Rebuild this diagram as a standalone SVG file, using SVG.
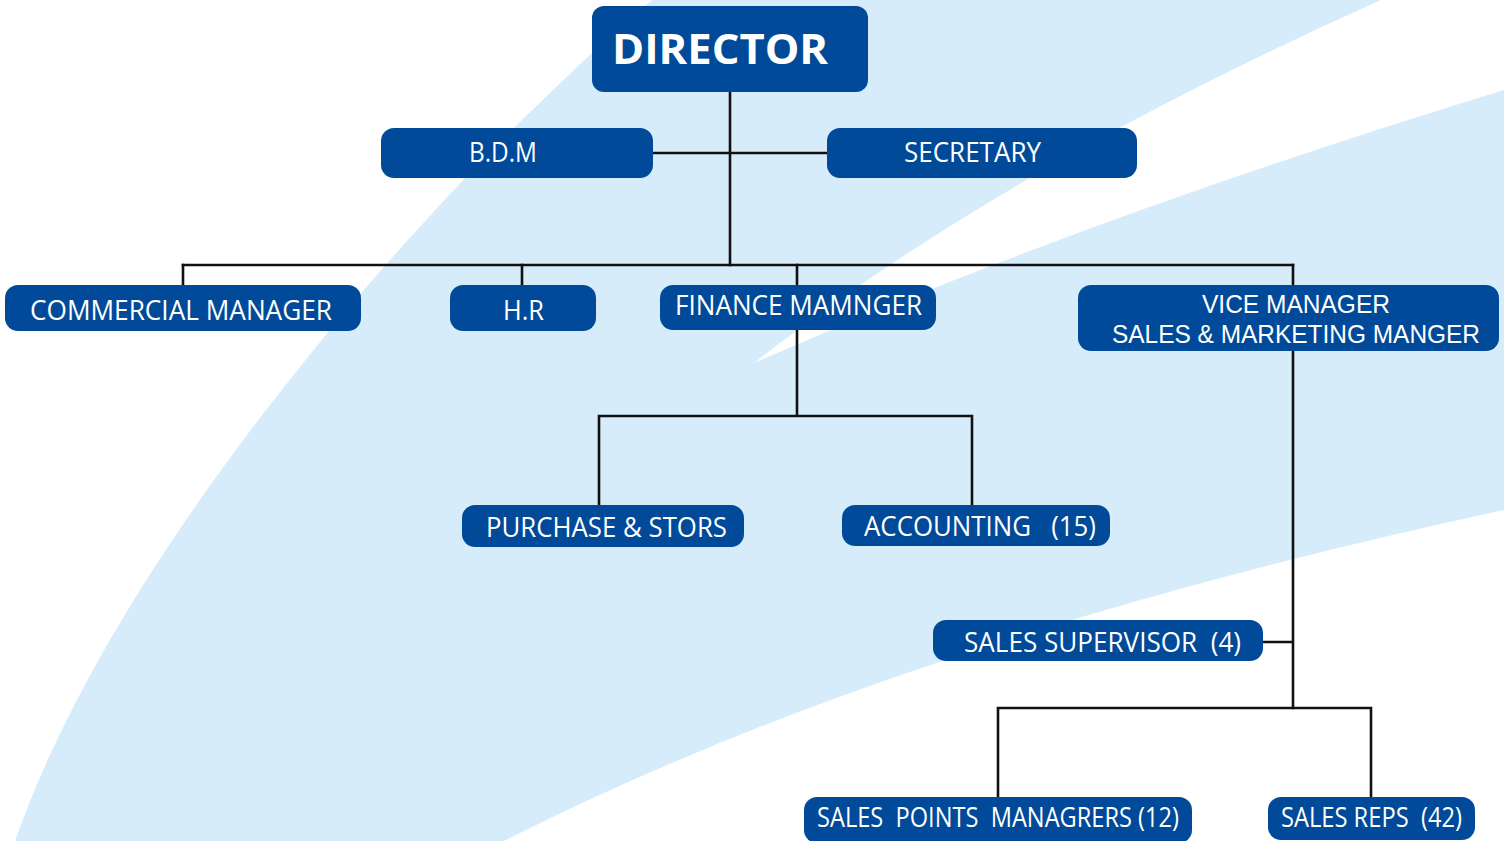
<svg xmlns="http://www.w3.org/2000/svg" width="1504" height="841" viewBox="0 0 1504 841">
  <style>
    .box { fill: #004a99; }
    .lbl { font-family: "Open Sans", "Noto Sans", "Liberation Sans", sans-serif; font-size: 28px; fill: #ffffff; }
    .two { font-family: "Liberation Sans", "Open Sans", sans-serif; font-size: 26px; fill: #ffffff; }
    .big { font-family: "Open Sans", "Noto Sans", "Liberation Sans", sans-serif; font-size: 42px; font-weight: bold; fill: #ffffff; }
    .wire { fill: none; stroke: #111111; stroke-width: 2.6; stroke-linecap: square; }
  </style>

  <!-- background swooshes -->
  <g id="background">
    <rect x="0" y="0" width="1504" height="841" fill="#ffffff"/>
    <path d="M652,0 C440,180 120,540 15,841 L1504,841 L1504,0 Z" fill="#d6ecfa"/>
    <path d="M754,363 Q1000,170 1381,0 L1504,0 L1504,90 Q1080,220 754,363 Z" fill="#ffffff"/>
    <path d="M504,841 Q900,640 1504,510 L1504,841 Z" fill="#ffffff"/>
  </g>

  <!-- connectors -->
  <g id="connectors" class="wire">
    <path d="M730,92 V265"/>
    <path d="M653,153 H827"/>
    <path d="M183,265 H1293"/>
    <path d="M183,265 V285 M522,265 V285 M797,265 V285 M1293,265 V285"/>
    <path d="M797,330 V416 M599,416 H972 M599,416 V505 M972,416 V505"/>
    <path d="M1293,351 V708 M1263,642 H1293"/>
    <path d="M998,708 H1371 M998,708 V797 M1371,708 V797"/>
  </g>

  <g id="director">
    <rect class="box" x="592" y="6" width="276" height="86" rx="12"/>
    <text class="big" x="612" y="64" textLength="216" lengthAdjust="spacingAndGlyphs">DIRECTOR</text>
  </g>

  <g id="bdm">
    <rect class="box" x="381" y="128" width="272" height="50" rx="13"/>
    <text class="lbl" x="469" y="162" textLength="68" lengthAdjust="spacingAndGlyphs">B.D.M</text>
  </g>

  <g id="secretary">
    <rect class="box" x="827" y="128" width="310" height="50" rx="13"/>
    <text class="lbl" x="904" y="162" textLength="137" lengthAdjust="spacingAndGlyphs">SECRETARY</text>
  </g>

  <g id="commercial-manager">
    <rect class="box" x="5" y="285" width="356" height="46" rx="13"/>
    <text class="lbl" x="30" y="320" textLength="302" lengthAdjust="spacingAndGlyphs">COMMERCIAL MANAGER</text>
  </g>

  <g id="hr">
    <rect class="box" x="450" y="285" width="146" height="46" rx="13"/>
    <text class="lbl" x="503" y="320" textLength="41" lengthAdjust="spacingAndGlyphs">H.R</text>
  </g>

  <g id="finance-manager">
    <rect class="box" x="660" y="285" width="276" height="45" rx="13"/>
    <text class="lbl" x="675" y="315" textLength="247" lengthAdjust="spacingAndGlyphs">FINANCE MAMNGER</text>
  </g>

  <g id="vice-manager">
    <rect class="box" x="1078" y="285" width="421" height="66" rx="13"/>
    <text class="two" x="1202" y="313" textLength="188" lengthAdjust="spacingAndGlyphs">VICE MANAGER</text>
    <text class="two" x="1112" y="343" textLength="368" lengthAdjust="spacingAndGlyphs">SALES &amp; MARKETING MANGER</text>
  </g>

  <g id="purchase-stores">
    <rect class="box" x="462" y="505" width="282" height="42" rx="13"/>
    <text class="lbl" x="486" y="537" textLength="241" lengthAdjust="spacingAndGlyphs">PURCHASE &amp; STORS</text>
  </g>

  <g id="accounting">
    <rect class="box" x="842" y="505" width="268" height="41" rx="13"/>
    <text class="lbl" x="864" y="536" textLength="232" lengthAdjust="spacingAndGlyphs" xml:space="preserve">ACCOUNTING   (15)</text>
  </g>

  <g id="sales-supervisor">
    <rect class="box" x="933" y="620" width="330" height="41" rx="13"/>
    <text class="lbl" x="964" y="652" textLength="277" lengthAdjust="spacingAndGlyphs" xml:space="preserve">SALES SUPERVISOR  (4)</text>
  </g>

  <g id="sales-points-managers">
    <rect class="box" x="804" y="797" width="388" height="46" rx="13"/>
    <text class="lbl" x="817" y="827" textLength="362" lengthAdjust="spacingAndGlyphs" xml:space="preserve">SALES  POINTS  MANAGRERS (12)</text>
  </g>

  <g id="sales-reps">
    <rect class="box" x="1268" y="797" width="207" height="43" rx="13"/>
    <text class="lbl" x="1281" y="827" textLength="181" lengthAdjust="spacingAndGlyphs" xml:space="preserve">SALES REPS  (42)</text>
  </g>
</svg>
